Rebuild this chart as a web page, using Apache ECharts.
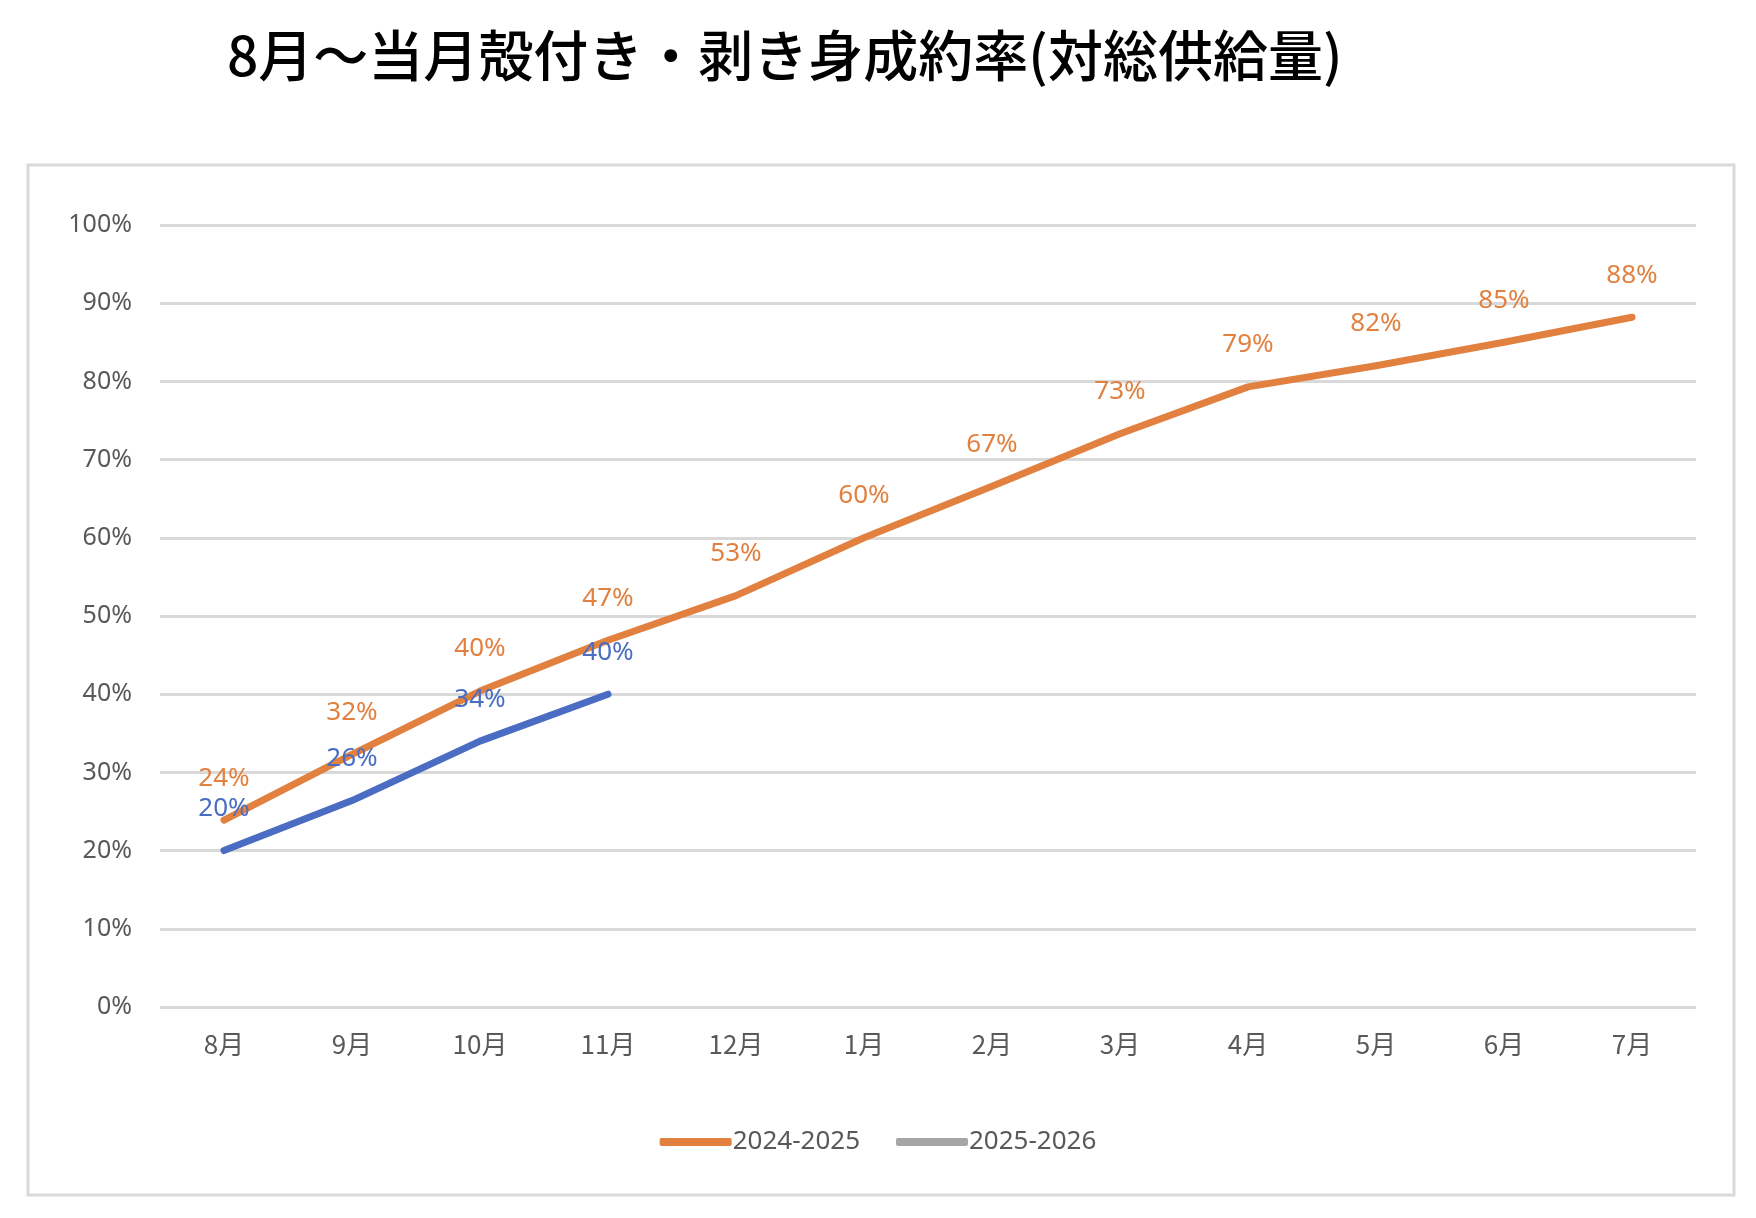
<!DOCTYPE html>
<html>
<head>
<meta charset="utf-8">
<script src="https://cdn.jsdelivr.net/npm/echarts@6/dist/echarts.min.js"></script>
<style>html,body{margin:0;padding:0;background:#fff}#c{width:1756px;height:1218px}</style>
</head>
<body>
<div id="c"></div>
<script>
const categories = ['8月','9月','10月','11月','12月','1月','2月','3月','4月','5月','6月','7月'];
const series2425 = [23.9, 32.3, 40.4, 46.9, 52.6, 60.0, 66.6, 73.3, 79.3, 82.0, 85.0, 88.2];
const series2526 = [20.0, 26.4, 34.0, 40.0];
const yTicks = [0, 10, 20, 30, 40, 50, 60, 70, 80, 90, 100];

const ORANGE = '#E1803F';
const BLUE = '#4A6DC3';
const GREY = '#A5A5A5';
const TXT = '#595959';
const FONT = '"Noto Sans", "Noto Sans CJK JP", sans-serif';

const chart = echarts.init(document.getElementById('c'));
chart.setOption({
  backgroundColor: '#fff',
  animation: false,
  title: {
    text: '8月〜当月殻付き・剥き身成約率(対総供給量)',
    left: 222, top: 23,
    textStyle: { fontFamily: '"Noto Sans CJK JP"', fontSize: 55, fontWeight: 500, color: '#000' }
  },
  graphic: [{
    type: 'rect', silent: true, z: -1,
    shape: { x: 28, y: 165, width: 1706, height: 1030 },
    style: { fill: 'none', stroke: '#D9D9D9', lineWidth: 3 }
  }],
  legend: {
    bottom: 58, left: 'center',
    itemWidth: 72, itemHeight: 8, itemGap: 36,
    textStyle: { fontFamily: FONT, fontSize: 26, color: TXT, padding: [0,0,0,-4] },
    data: [
      { name: '2024-2025', icon: 'roundRect', itemStyle: { color: ORANGE, opacity: 1 } },
      { name: '2025-2026', icon: 'roundRect', itemStyle: { color: GREY, opacity: 1 } }
    ]
  },
  grid: { left: 160, right: 60, top: 225, bottom: 211, containLabel: false },
  xAxis: {
    type: 'category', data: categories, boundaryGap: true,
    axisLine: { show: false }, axisTick: { show: false },
    axisLabel: { fontFamily: '"Noto Sans CJK JP"', fontSize: 26, color: TXT, margin: 24 }
  },
  yAxis: {
    type: 'value', min: yTicks[0], max: yTicks[yTicks.length-1], interval: 10,
    axisLine: { show: false }, axisTick: { show: false },
    axisLabel: { fontFamily: FONT, fontSize: 25, color: TXT, margin: 28, formatter: v => v + '%' },
    splitLine: { lineStyle: { color: '#D9D9D9', width: 3 } }
  },
  series: [
    {
      name: '2024-2025', type: 'line', data: series2425,
      showSymbol: true, symbol: 'circle', symbolSize: 2,
      lineStyle: { color: ORANGE, width: 7, cap: 'round', join: 'round' },
      itemStyle: { color: ORANGE },
      label: { show: true, position: 'top', distance: 28, fontFamily: FONT, fontSize: 26, color: ORANGE,
               formatter: p => Math.round(p.value) + '%' }
    },
    {
      name: '2025-2026', type: 'line', data: series2526,
      showSymbol: true, symbol: 'circle', symbolSize: 2,
      lineStyle: { color: BLUE, width: 7, cap: 'round', join: 'round' },
      itemStyle: { color: BLUE },
      label: { show: true, position: 'top', distance: 28, fontFamily: FONT, fontSize: 26, color: BLUE,
               formatter: p => Math.round(p.value) + '%' }
    }
  ]
});
</script>
</body>
</html>
